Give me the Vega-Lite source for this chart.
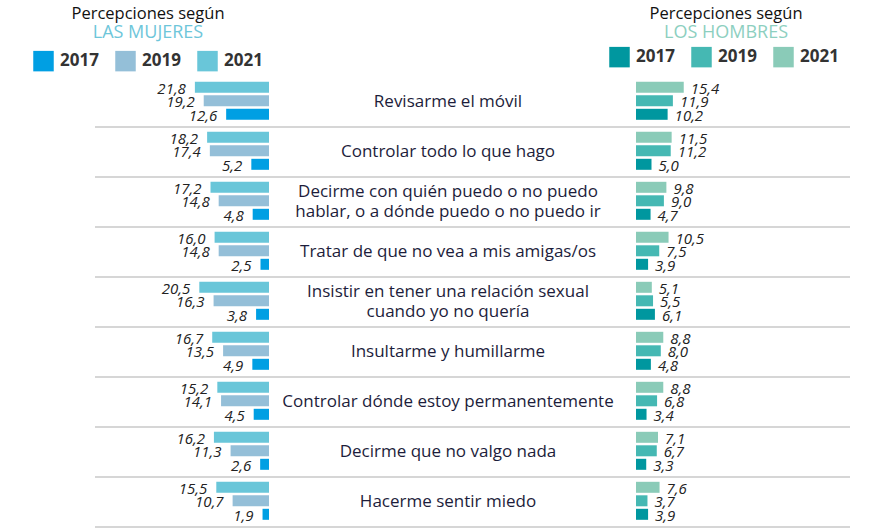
{
  "$schema": "https://vega.github.io/schema/vega-lite/v6.json",
  "width": 755,
  "height": 450,
  "autosize": {"type": "none"},
  "padding": {"left": 95, "top": 77, "right": 27, "bottom": 2},
  "background": "white",
  "config": {
    "view": {"stroke": null},
    "font": "Open Sans",
    "locale": {"number": {"decimal": ",", "thousands": ".", "grouping": [3], "currency": ["", " €"]}}
  },
  "datasets": {
    "cats": [
      {"cat": "Revisarme el móvil"},
      {"cat": "Controlar todo lo que hago"},
      {"cat": "Decirme con quién puedo o no puedo\nhablar, o a dónde puedo o no puedo ir"},
      {"cat": "Tratar de que no vea a mis amigas/os"},
      {"cat": "Insistir en tener una relación sexual\ncuando yo no quería"},
      {"cat": "Insultarme y humillarme"},
      {"cat": "Controlar dónde estoy permanentemente"},
      {"cat": "Decirme que no valgo nada"},
      {"cat": "Hacerme sentir miedo"}
    ],
    "head": [
      {"side": "L", "line": "1", "txt": "Percepciones según"},
      {"side": "L", "line": "2", "txt": "LAS MUJERES"},
      {"side": "R", "line": "1", "txt": "Percepciones según"},
      {"side": "R", "line": "2", "txt": "LOS HOMBRES"}
    ],
    "vals": [
      {"cat": "Revisarme el móvil", "side": "M", "year": "2021", "v": 21.8},
      {"cat": "Revisarme el móvil", "side": "M", "year": "2019", "v": 19.2},
      {"cat": "Revisarme el móvil", "side": "M", "year": "2017", "v": 12.6},
      {"cat": "Revisarme el móvil", "side": "H", "year": "2021", "v": 15.4},
      {"cat": "Revisarme el móvil", "side": "H", "year": "2019", "v": 11.9},
      {"cat": "Revisarme el móvil", "side": "H", "year": "2017", "v": 10.2},
      {"cat": "Controlar todo lo que hago", "side": "M", "year": "2021", "v": 18.2},
      {"cat": "Controlar todo lo que hago", "side": "M", "year": "2019", "v": 17.4},
      {"cat": "Controlar todo lo que hago", "side": "M", "year": "2017", "v": 5.2},
      {"cat": "Controlar todo lo que hago", "side": "H", "year": "2021", "v": 11.5},
      {"cat": "Controlar todo lo que hago", "side": "H", "year": "2019", "v": 11.2},
      {"cat": "Controlar todo lo que hago", "side": "H", "year": "2017", "v": 5.0},
      {"cat": "Decirme con quién puedo o no puedo\nhablar, o a dónde puedo o no puedo ir", "side": "M", "year": "2021", "v": 17.2},
      {"cat": "Decirme con quién puedo o no puedo\nhablar, o a dónde puedo o no puedo ir", "side": "M", "year": "2019", "v": 14.8},
      {"cat": "Decirme con quién puedo o no puedo\nhablar, o a dónde puedo o no puedo ir", "side": "M", "year": "2017", "v": 4.8},
      {"cat": "Decirme con quién puedo o no puedo\nhablar, o a dónde puedo o no puedo ir", "side": "H", "year": "2021", "v": 9.8},
      {"cat": "Decirme con quién puedo o no puedo\nhablar, o a dónde puedo o no puedo ir", "side": "H", "year": "2019", "v": 9.0},
      {"cat": "Decirme con quién puedo o no puedo\nhablar, o a dónde puedo o no puedo ir", "side": "H", "year": "2017", "v": 4.7},
      {"cat": "Tratar de que no vea a mis amigas/os", "side": "M", "year": "2021", "v": 16.0},
      {"cat": "Tratar de que no vea a mis amigas/os", "side": "M", "year": "2019", "v": 14.8},
      {"cat": "Tratar de que no vea a mis amigas/os", "side": "M", "year": "2017", "v": 2.5},
      {"cat": "Tratar de que no vea a mis amigas/os", "side": "H", "year": "2021", "v": 10.5},
      {"cat": "Tratar de que no vea a mis amigas/os", "side": "H", "year": "2019", "v": 7.5},
      {"cat": "Tratar de que no vea a mis amigas/os", "side": "H", "year": "2017", "v": 3.9},
      {"cat": "Insistir en tener una relación sexual\ncuando yo no quería", "side": "M", "year": "2021", "v": 20.5},
      {"cat": "Insistir en tener una relación sexual\ncuando yo no quería", "side": "M", "year": "2019", "v": 16.3},
      {"cat": "Insistir en tener una relación sexual\ncuando yo no quería", "side": "M", "year": "2017", "v": 3.8},
      {"cat": "Insistir en tener una relación sexual\ncuando yo no quería", "side": "H", "year": "2021", "v": 5.1},
      {"cat": "Insistir en tener una relación sexual\ncuando yo no quería", "side": "H", "year": "2019", "v": 5.5},
      {"cat": "Insistir en tener una relación sexual\ncuando yo no quería", "side": "H", "year": "2017", "v": 6.1},
      {"cat": "Insultarme y humillarme", "side": "M", "year": "2021", "v": 16.7},
      {"cat": "Insultarme y humillarme", "side": "M", "year": "2019", "v": 13.5},
      {"cat": "Insultarme y humillarme", "side": "M", "year": "2017", "v": 4.9},
      {"cat": "Insultarme y humillarme", "side": "H", "year": "2021", "v": 8.8},
      {"cat": "Insultarme y humillarme", "side": "H", "year": "2019", "v": 8.0},
      {"cat": "Insultarme y humillarme", "side": "H", "year": "2017", "v": 4.8},
      {"cat": "Controlar dónde estoy permanentemente", "side": "M", "year": "2021", "v": 15.2},
      {"cat": "Controlar dónde estoy permanentemente", "side": "M", "year": "2019", "v": 14.1},
      {"cat": "Controlar dónde estoy permanentemente", "side": "M", "year": "2017", "v": 4.5},
      {"cat": "Controlar dónde estoy permanentemente", "side": "H", "year": "2021", "v": 8.8},
      {"cat": "Controlar dónde estoy permanentemente", "side": "H", "year": "2019", "v": 6.8},
      {"cat": "Controlar dónde estoy permanentemente", "side": "H", "year": "2017", "v": 3.4},
      {"cat": "Decirme que no valgo nada", "side": "M", "year": "2021", "v": 16.2},
      {"cat": "Decirme que no valgo nada", "side": "M", "year": "2019", "v": 11.3},
      {"cat": "Decirme que no valgo nada", "side": "M", "year": "2017", "v": 2.6},
      {"cat": "Decirme que no valgo nada", "side": "H", "year": "2021", "v": 7.1},
      {"cat": "Decirme que no valgo nada", "side": "H", "year": "2019", "v": 6.7},
      {"cat": "Decirme que no valgo nada", "side": "H", "year": "2017", "v": 3.3},
      {"cat": "Hacerme sentir miedo", "side": "M", "year": "2021", "v": 15.5},
      {"cat": "Hacerme sentir miedo", "side": "M", "year": "2019", "v": 10.7},
      {"cat": "Hacerme sentir miedo", "side": "M", "year": "2017", "v": 1.9},
      {"cat": "Hacerme sentir miedo", "side": "H", "year": "2021", "v": 7.6},
      {"cat": "Hacerme sentir miedo", "side": "H", "year": "2019", "v": 3.7},
      {"cat": "Hacerme sentir miedo", "side": "H", "year": "2017", "v": 3.9}
    ]
  },
  "layer": [
    {
      "data": {"name": "cats"},
      "mark": {"type": "rule", "color": "#c8c8c8", "strokeWidth": 1.5},
      "encoding": {
        "y": {"field": "cat", "type": "nominal", "bandPosition": 1, "axis": null,
              "scale": {"type": "band", "domain": {"data": "cats", "field": "cat"}, "paddingInner": 0, "paddingOuter": 0}}
      }
    },
    {
      "data": {"name": "vals"},
      "transform": [{"filter": "datum.side == 'M'"}],
      "mark": {"type": "bar"},
      "encoding": {
        "y": {"field": "cat", "type": "nominal", "axis": null, "sort": null,
              "scale": {"paddingInner": 0, "paddingOuter": 0}},
        "yOffset": {"field": "year", "type": "nominal",
                    "scale": {"domain": ["2021", "2019", "2017"], "paddingInner": 0.185, "paddingOuter": 0.444, "align": 0.4}},
        "x": {"field": "v", "type": "quantitative", "stack": null, "axis": null,
              "scale": {"domain": [0, 25], "range": [174, 89], "nice": false}},
        "color": {"field": "year", "type": "nominal",
                  "scale": {"domain": ["2017", "2019", "2021"], "range": ["#009fe3", "#94bfd8", "#69c6d9"]},
                  "legend": {"title": null, "orient": "none", "legendX": -62, "legendY": -26.5, "direction": "horizontal",
                             "symbolType": "square", "symbolSize": 420, "symbolStrokeWidth": 0, "symbolOpacity": 1,
                             "labelFontSize": 17, "labelFontWeight": "bold", "labelColor": "#333333", "labelOffset": 6,
                             "columnPadding": 16, "padding": 0}}
      }
    },
    {
      "data": {"name": "vals"},
      "transform": [{"filter": "datum.side == 'M'"}],
      "mark": {"type": "text", "align": "right", "baseline": "middle", "dx": -9, "dy": 1.5, "fontSize": 15, "fontStyle": "italic", "color": "#222222"},
      "encoding": {
        "y": {"field": "cat", "type": "nominal", "axis": null, "sort": null,
              "scale": {"type": "band", "paddingInner": 0, "paddingOuter": 0}},
        "yOffset": {"field": "year", "type": "nominal",
                    "scale": {"type": "band", "domain": ["2021", "2019", "2017"], "paddingInner": 0.185, "paddingOuter": 0.444, "align": 0.4}},
        "x": {"field": "v", "type": "quantitative", "axis": null,
              "scale": {"domain": [0, 25], "range": [174, 89], "nice": false}},
        "text": {"field": "v", "type": "quantitative", "format": ".1f"}
      }
    },
    {
      "data": {"name": "cats"},
      "transform": [{"filter": "indexof(datum.cat, '\\n') < 0"}],
      "mark": {"type": "text", "align": "center", "baseline": "middle", "dx": -24.5, "fontSize": 17, "color": "#1d1d3b"},
      "encoding": {
        "y": {"field": "cat", "type": "nominal", "axis": null,
              "scale": {"type": "band", "domain": {"data": "cats", "field": "cat"}, "paddingInner": 0, "paddingOuter": 0}},
        "text": {"field": "cat", "type": "nominal"}
      }
    },
    {
      "data": {"name": "cats"},
      "transform": [{"filter": "indexof(datum.cat, '\\n') >= 0"}],
      "mark": {"type": "text", "align": "center", "baseline": "middle", "dx": -24.5, "dy": -9.75, "fontSize": 17, "color": "#1d1d3b", "lineBreak": "\n", "lineHeight": 19.5},
      "encoding": {
        "y": {"field": "cat", "type": "nominal", "axis": null,
              "scale": {"type": "band", "domain": {"data": "cats", "field": "cat"}, "paddingInner": 0, "paddingOuter": 0}},
        "text": {"field": "cat", "type": "nominal"}
      }
    },
    {
      "data": {"name": "vals"},
      "transform": [{"filter": "datum.side == 'H'"}],
      "mark": {"type": "bar"},
      "encoding": {
        "y": {"field": "cat", "type": "nominal", "axis": null, "sort": null,
              "scale": {"paddingInner": 0, "paddingOuter": 0}},
        "yOffset": {"field": "year", "type": "nominal",
                    "scale": {"domain": ["2021", "2019", "2017"], "paddingInner": 0.185, "paddingOuter": 0.444, "align": 0.4}},
        "x": {"field": "v", "type": "quantitative", "stack": null, "axis": null,
              "scale": {"domain": [0, 20], "range": [541, 603], "nice": false}},
        "color": {"field": "year", "type": "nominal",
                  "scale": {"domain": ["2017", "2019", "2021"], "range": ["#00979f", "#45b8b3", "#8acbb8"]},
                  "legend": {"title": null, "orient": "none", "legendX": 514, "legendY": -30.5, "direction": "horizontal",
                             "symbolType": "square", "symbolSize": 420, "symbolStrokeWidth": 0, "symbolOpacity": 1,
                             "labelFontSize": 17, "labelFontWeight": "bold", "labelColor": "#333333", "labelOffset": 6,
                             "columnPadding": 16, "padding": 0}}
      }
    },
    {
      "data": {"name": "vals"},
      "transform": [{"filter": "datum.side == 'H'"}],
      "mark": {"type": "text", "align": "left", "baseline": "middle", "dx": 7, "dy": 1.5, "fontSize": 15, "fontStyle": "italic", "color": "#222222"},
      "encoding": {
        "y": {"field": "cat", "type": "nominal", "axis": null, "sort": null,
              "scale": {"type": "band", "paddingInner": 0, "paddingOuter": 0}},
        "yOffset": {"field": "year", "type": "nominal",
                    "scale": {"type": "band", "domain": ["2021", "2019", "2017"], "paddingInner": 0.185, "paddingOuter": 0.444, "align": 0.4}},
        "x": {"field": "v", "type": "quantitative", "axis": null,
              "scale": {"domain": [0, 20], "range": [541, 603], "nice": false}},
        "text": {"field": "v", "type": "quantitative", "format": ".1f"}
      }
    },
    {
      "data": {"name": "head"},
      "mark": {"type": "text", "align": "center", "baseline": "middle"},
      "encoding": {
        "x": {"field": "side", "type": "nominal", "axis": null,
              "scale": {"type": "point", "domain": ["L", "R"], "range": [53, 631], "padding": 0}},
        "y": {"field": "line", "type": "nominal", "axis": null,
              "scale": {"type": "point", "domain": ["1", "2"], "range": [-63.5, -44], "padding": 0}},
        "text": {"field": "txt", "type": "nominal"},
        "size": {"condition": {"test": "datum.line == '2'", "value": 18}, "value": 16.5},
        "color": {"condition": [{"test": "datum.line == '1'", "value": "#111111"}, {"test": "datum.side == 'L'", "value": "#6ec6da"}], "value": "#8dcfbf"}
      }
    }
  ],
  "resolve": {
    "scale": {"x": "independent", "y": "independent", "yOffset": "independent", "color": "independent", "size": "independent"},
    "legend": {"color": "independent"}
  }
}
